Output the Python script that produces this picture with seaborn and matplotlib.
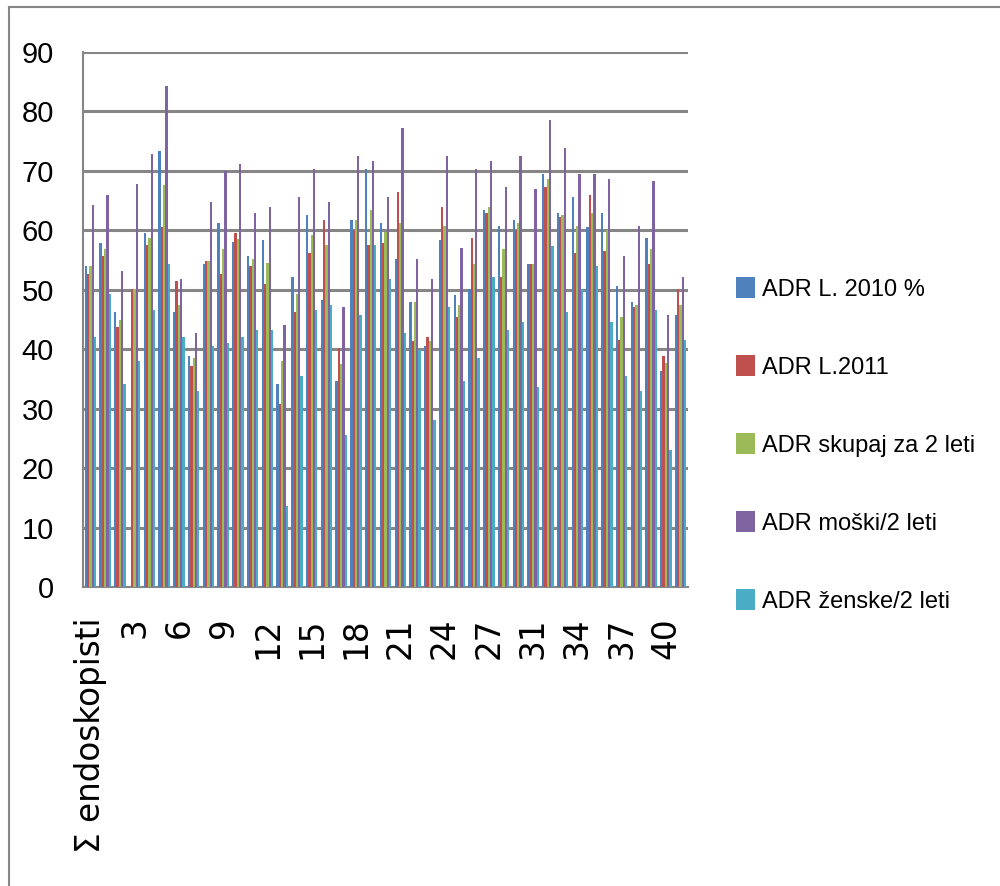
import matplotlib.pyplot as plt
import seaborn as sns
import pandas as pd
import numpy as np
from matplotlib.patches import Rectangle

sns.set_style("white")
plt.rcParams['font.family'] = ['DejaVu Sans']
plt.rcParams['text.color'] = 'black'
plt.rcParams['xtick.labelcolor'] = 'black'
plt.rcParams['ytick.labelcolor'] = 'black'

# kategorije (endoskopisti); 30 manjka
kategorije = ['Σ endoskopisti'] + [str(i) for i in range(1, 30)] + [str(i) for i in range(31, 42)]

adr_2010 = [54.0, 57.9, 46.2, 0.0, 59.6, 73.4, 46.2, 38.9, 54.4, 61.2,
            58.0, 55.7, 58.3, 34.2, 52.2, 62.6, 48.3, 34.6, 61.7, 70.3,
            61.2, 55.2, 48.0, 40.6, 58.3, 49.2, 50.1, 63.5, 60.8, 61.7,
            54.4, 69.5, 63.0, 65.6, 60.5, 63.0, 50.6, 47.9, 58.7, 36.3, 45.8]
adr_2011 = [52.7, 55.7, 43.7, 50.1, 57.5, 60.5, 51.4, 37.2, 54.8, 52.6,
            59.5, 54.0, 51.0, 30.8, 46.2, 56.2, 61.7, 40.2, 60.0, 57.5,
            57.9, 66.5, 41.4, 42.0, 63.9, 45.4, 58.7, 63.0, 52.2, 60.0,
            54.4, 67.3, 62.2, 56.2, 66.0, 56.6, 41.5, 47.1, 54.4, 38.9, 50.1]
adr_skupaj = [54.0, 56.9, 44.9, 50.1, 58.7, 67.7, 47.5, 38.5, 54.8, 56.9,
              58.5, 55.2, 54.5, 38.0, 49.3, 59.2, 57.5, 37.5, 61.7, 63.5,
              59.8, 61.2, 48.0, 41.4, 60.8, 47.5, 54.4, 63.9, 56.9, 61.2,
              54.4, 68.7, 62.6, 60.8, 63.0, 60.0, 45.4, 47.5, 56.9, 37.6, 47.5]
adr_moski = [64.3, 66.0, 53.1, 67.8, 72.9, 84.2, 51.8, 42.8, 64.8, 69.9,
             71.2, 63.0, 63.9, 44.1, 65.6, 70.3, 64.8, 47.1, 72.5, 71.6,
             65.6, 77.2, 55.2, 51.8, 72.5, 57.0, 70.3, 71.6, 67.3, 72.5,
             66.9, 78.5, 73.8, 69.5, 69.5, 68.7, 55.7, 60.8, 68.3, 45.8, 52.2]
adr_zenske = [42.0, 49.3, 34.2, 38.0, 46.6, 54.4, 42.0, 32.9, 40.6, 41.0,
              42.0, 43.3, 43.3, 13.6, 35.5, 46.6, 47.5, 25.6, 45.8, 57.5,
              51.8, 42.7, 39.8, 28.1, 47.1, 34.6, 38.5, 52.2, 43.3, 44.5,
              33.7, 57.4, 46.2, 50.1, 54.0, 44.5, 35.5, 32.9, 46.6, 23.0, 41.5]

serije = ['ADR L. 2010 %', 'ADR L.2011', 'ADR skupaj za 2 leti',
          'ADR moški/2 leti', 'ADR ženske/2 leti']
barve = ['#4F81BD', '#C0504D', '#9BBB59', '#8064A2', '#4BACC6']

df = pd.DataFrame({
    'kategorija': kategorije * 5,
    'serija': np.repeat(serije, len(kategorije)),
    'ADR': adr_2010 + adr_2011 + adr_skupaj + adr_moski + adr_zenske,
})

siva = '#868686'
ozka = ['Liberation Sans Narrow', 'DejaVu Sans Condensed', 'Liberation Sans', 'DejaVu Sans']

fig = plt.figure(figsize=(10, 8.86), dpi=100)
ax = fig.add_axes([83 / 1000, 1 - 587 / 886, 605 / 1000, 535 / 886])

sns.barplot(data=df, x='kategorija', y='ADR', hue='serija', order=kategorije,
            hue_order=serije, palette=barve, saturation=1, width=0.78,
            errorbar=None, linewidth=0, ax=ax)
for p in ax.patches:
    p.set_antialiased(False)
    p.set_zorder(3)

ax.set_ylim(0, 90)
ax.set_xlim(-0.5, len(kategorije) - 0.5)
ax.set_yticks(range(0, 91, 10))
ax.yaxis.grid(True, color=siva, linewidth=2.2, zorder=0)
ax.set_axisbelow(True)
ax.set_xlabel('')
ax.set_ylabel('')

for s in ['top', 'right']:
    ax.spines[s].set_visible(False)
for s in ['left', 'bottom']:
    ax.spines[s].set_color(siva)
    ax.spines[s].set_linewidth(1.5)

pos = list(range(0, len(kategorije), 3))
ax.set_xticks(pos)
ax.set_xticklabels([kategorije[i] for i in pos], rotation=90, fontsize=23.5,
                   family='DejaVu Sans')
ax.set_xticks(np.arange(-0.5, len(kategorije), 1), minor=True)
ax.tick_params(axis='x', which='major', length=0, pad=22)
ax.tick_params(axis='x', which='minor', length=8, width=1.5, color=siva)
ax.tick_params(axis='y', length=7, width=1.5, color=siva, pad=14)
for t in ax.get_yticklabels():
    t.set_fontsize(21)
    t.set_family(ozka)

leg = ax.legend(loc='center left', bbox_to_anchor=(736 / 1000, 1 - 445 / 886),
                bbox_transform=fig.transFigure, frameon=False,
                prop={'family': ozka, 'size': 17}, handlelength=0.8,
                handleheight=1.0, handletextpad=0.3, labelspacing=2.3,
                borderpad=0, borderaxespad=0)
for t in leg.get_texts():
    t.set_color('black')

fig.patches.append(Rectangle((9 / 1000, -0.1), 1.2, 1 - 7 / 886 + 0.1,
                             transform=fig.transFigure, fill=False,
                             edgecolor=siva, linewidth=1.5))

fig.savefig('out.png', dpi=100)
